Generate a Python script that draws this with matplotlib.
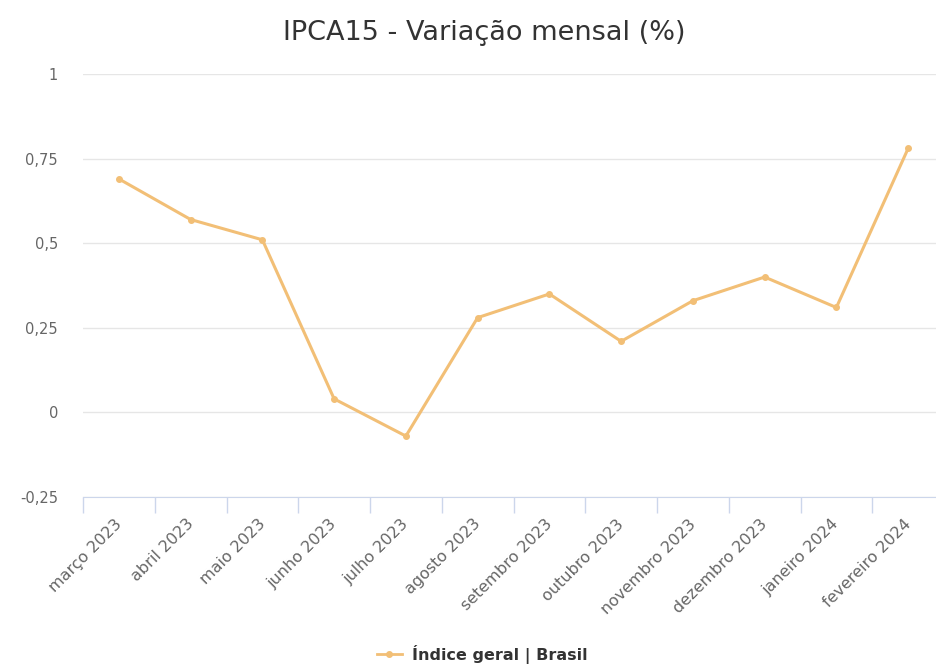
import numpy as np
import matplotlib
matplotlib.use('Agg')
import matplotlib.pyplot as plt
import matplotlib.transforms as mtransforms
from matplotlib.lines import Line2D

# data
meses = ['março 2023', 'abril 2023', 'maio 2023', 'junho 2023', 'julho 2023',
         'agosto 2023', 'setembro 2023', 'outubro 2023', 'novembro 2023',
         'dezembro 2023', 'janeiro 2024', 'fevereiro 2024']
variacao = [0.69, 0.57, 0.51, 0.04, -0.07, 0.28, 0.35, 0.21, 0.33, 0.40, 0.31, 0.78]
yticks = [-0.25, 0, 0.25, 0.5, 0.75, 1]
ylabels = ['-0,25', '0', '0,25', '0,5', '0,75', '1']
serie = 'Índice geral | Brasil'

cor = '#f2bf76'
plt.rcParams['font.family'] = ['DejaVu Sans']

fig = plt.figure(figsize=(9.36, 6.67), dpi=100, facecolor='white')
ax = fig.add_axes([83/936, 1-497/667, (944-83)/936, (497-74)/667])

x = np.arange(len(meses))
ax.plot(x, variacao, color=cor, lw=2.2, marker='o', ms=4, zorder=3)

ax.set_xlim(-0.5, len(meses)-0.5)
ax.set_ylim(-0.25, 1)
ax.set_yticks(yticks)
ax.set_yticklabels(ylabels)
ax.yaxis.grid(True, color='#e6e6e6', lw=1)
ax.set_axisbelow(True)

# category boundaries as tick marks, labels on the centres (minor ticks)
ax.set_xticks(np.arange(len(meses)+1) - 0.5)
ax.set_xticks(x, minor=True)
ax.tick_params(axis='x', which='major', length=11.5, color='#ccd6eb', width=1,
               labelbottom=False)
ax.tick_params(axis='x', which='minor', length=0, pad=14, labelsize=11.5,
               labelcolor='#666666')
ax.tick_params(axis='y', length=0, labelsize=10.5, labelcolor='#666666', pad=18)
ax.set_xticklabels(meses, minor=True)
shift = mtransforms.ScaledTranslation(-5/100, 0, fig.dpi_scale_trans)
for lbl in ax.get_xticklabels(minor=True):
    lbl.set_rotation(45)
    lbl.set_ha('right')
    lbl.set_va('top')
    lbl.set_rotation_mode('anchor')
    lbl.set_transform(lbl.get_transform() + shift)

for s in ['top', 'right', 'left']:
    ax.spines[s].set_visible(False)
ax.spines['bottom'].set_color('#ccd6eb')

fig.text(0.517, 1-33/667, 'IPCA15 - Variação mensal (%)', ha='center', va='center',
         fontsize=19.5, color='#333333')

h = Line2D([], [], color=cor, lw=2, marker='o', ms=4)
fig.legend([h], [serie], loc='center', bbox_to_anchor=(0.515, 1-654/667), frameon=False,
           prop={'weight': 'bold', 'size': 11.5}, labelcolor='#333333', handlelength=1.6,
           handletextpad=0.6)

fig.savefig('out.png', dpi=100, facecolor='white')
